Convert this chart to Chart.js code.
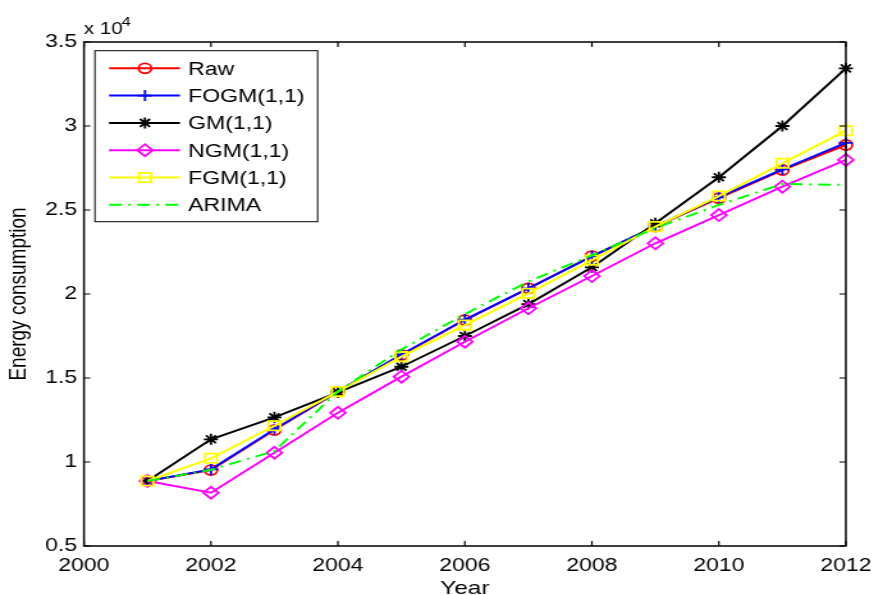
<!DOCTYPE html>
<html>
<head>
<meta charset="utf-8">
<script src="https://cdn.jsdelivr.net/npm/chart.js@4.4.0/dist/chart.umd.min.js"></script>
<style>
  html, body { margin: 0; padding: 0; background: #fff; overflow: hidden; }
</style>
</head>
<body>
<!-- drawn narrower and stretched sideways, like the reference picture -->
<canvas id="c" width="690" height="595" style="width:883px;height:595px"></canvas>
<script>
// Data (energy consumption)
const years = [2001, 2002, 2003, 2004, 2005, 2006, 2007, 2008, 2009, 2010, 2011, 2012];
const raw   = [8870, 9520, 11900, 14190, 16370, 18450, 20340, 22260, 24010, 25700, 27380, 28870];
const fogm  = [8870, 9560, 11950, 14200, 16400, 18480, 20340, 22240, 24020, 25760, 27420, 28990];
const gm    = [8870, 11350, 12660, 14150, 15670, 17500, 19400, 21590, 24210, 26950, 30000, 33430];
const ngm   = [8870, 8170, 10550, 12930, 15080, 17160, 19150, 21070, 23020, 24700, 26390, 27980];
const fgm   = [8870, 10220, 12160, 14190, 16270, 18150, 20040, 22020, 24010, 25830, 27780, 29720];
const arima = [8870, 9540, 10650, 14200, 16700, 18800, 20750, 22300, 23930, 25300, 26550, 26490];

const xTickLabels = ['2000', '2002', '2004', '2006', '2008', '2010', '2012'];
const yTickLabels = ['0.5', '1', '1.5', '2', '2.5', '3', '3.5'];

Chart.defaults.font.family = '"Liberation Sans", Arial, Helvetica, sans-serif';
Chart.defaults.color = '#000';

function pts(arr) {
    return years.map(function (t, i) { return { x: t, y: arr[i] }; });
}

function series(label, arr, color, style, radius, order) {
    return {
        label: label,
        data: pts(arr),
        borderColor: color,
        backgroundColor: color,
        borderWidth: 2,
        pointStyle: style,
        pointRadius: radius,
        pointBorderWidth: 1.8,
        pointBorderColor: color,
        pointBackgroundColor: 'rgba(0,0,0,0)',
        tension: 0,
        clip: false,
        order: order
    };
}

const datasets = [
    series('Raw', raw, '#ff0000', 'circle', 5, 6),
    series('FOGM(1,1)', fogm, '#0000ff', 'cross', 5.5, 5),
    series('GM(1,1)', gm, '#000000', 'star', 5.5, 4),
    series('NGM(1,1)', ngm, '#ff00ff', 'rectRot', 6, 3),
    series('FGM(1,1)', fgm, '#ffff00', 'rect', 6.6, 2),
    Object.assign(series('ARIMA', arima, '#00ff00', false, 0, 1), { borderDash: [10, 5, 2, 5] })
];

// box round the axes, inward ticks on all four sides, the x 10^4 factor
const frame = {
    id: 'frame',
    afterDatasetsDraw(chart) {
        const ctx = chart.ctx;
        const a = chart.chartArea;
        const xs = chart.scales.x, ys = chart.scales.y;
        ctx.save();
        ctx.strokeStyle = '#000';
        ctx.lineWidth = 1.5;
        ctx.strokeRect(a.left, a.top, a.right - a.left, a.bottom - a.top);
        ctx.lineWidth = 1.2;
        ctx.beginPath();
        xs.ticks.forEach(function (t) {
            const px = xs.getPixelForValue(t.value);
            ctx.moveTo(px, a.bottom); ctx.lineTo(px, a.bottom - 5);
            ctx.moveTo(px, a.top); ctx.lineTo(px, a.top + 5);
        });
        ys.ticks.forEach(function (t) {
            const py = ys.getPixelForValue(t.value);
            ctx.moveTo(a.left, py); ctx.lineTo(a.left + 5, py);
            ctx.moveTo(a.right, py); ctx.lineTo(a.right - 5, py);
        });
        ctx.stroke();

        ctx.fillStyle = '#000';
        ctx.textAlign = 'left';
        ctx.textBaseline = 'alphabetic';
        ctx.font = '16px "Liberation Sans", Arial, sans-serif';
        ctx.fillText('x 10', a.left, 34);
        ctx.font = '13px "Liberation Sans", Arial, sans-serif';
        ctx.fillText('4', a.left + 29.5, 26);
        ctx.restore();
    }
};

// legend box inside the plot, top left
const boxLegend = {
    id: 'boxLegend',
    afterDraw(chart) {
        const ctx = chart.ctx;
        const lx = 74.2, ly = 50.7, lw = 174, lh = 171;
        ctx.save();
        ctx.fillStyle = '#fff';
        ctx.fillRect(lx, ly, lw, lh);
        ctx.strokeStyle = '#000';
        ctx.lineWidth = 1;
        ctx.strokeRect(lx, ly, lw, lh);
        chart.data.datasets.forEach(function (ds, i) {
            const y = 68.3 + i * 27.3;
            ctx.strokeStyle = ds.borderColor;
            ctx.lineWidth = ds.borderWidth;
            ctx.setLineDash(ds.borderDash || []);
            ctx.beginPath();
            ctx.moveTo(85.2, y);
            ctx.lineTo(140.6, y);
            ctx.stroke();
            ctx.setLineDash([]);
            if (ds.pointRadius > 0) {
                ctx.fillStyle = 'rgba(0,0,0,0)';
                ctx.lineWidth = ds.pointBorderWidth;
                Chart.helpers.drawPoint(ctx, {
                    pointStyle: ds.pointStyle,
                    radius: ds.pointRadius,
                    borderWidth: ds.pointBorderWidth,
                    rotation: 0
                }, 113.3, y);
            }
            ctx.fillStyle = '#000';
            ctx.font = '18px "Liberation Sans", Arial, sans-serif';
            ctx.textAlign = 'left';
            ctx.textBaseline = 'alphabetic';
            ctx.fillText(ds.label, 146.9, y + 6.4);
        });
        ctx.restore();
    }
};

new Chart(document.getElementById('c'), {
    type: 'line',
    data: { datasets: datasets },
    plugins: [frame, boxLegend],
    options: {
        responsive: false,
        animation: false,
        devicePixelRatio: 1,
        layout: { padding: { left: 0, right: 20.5, top: 42, bottom: 0 } },
        plugins: {
            legend: { display: false },
            tooltip: { enabled: false }
        },
        scales: {
            x: {
                type: 'linear',
                min: 2000,
                max: 2012,
                grid: { display: false, drawTicks: false },
                border: { display: false },
                ticks: {
                    stepSize: 2,
                    padding: 9,
                    maxRotation: 0,
                    font: { size: 18 },
                    callback: function (value, index) { return xTickLabels[index]; }
                },
                title: {
                    display: true,
                    text: 'Year',
                    font: { size: 19, lineHeight: 0.7 },
                    padding: 0
                },
                afterFit: function (scale) { scale.height = 49; }
            },
            y: {
                type: 'linear',
                min: 5000,
                max: 35000,
                grid: { display: false, drawTicks: false },
                border: { display: false },
                ticks: {
                    stepSize: 5000,
                    padding: 5.4,
                    font: { size: 18 },
                    callback: function (value, index) { return yTickLabels[index]; }
                },
                title: {
                    display: true,
                    text: 'Energy consumption',
                    font: { size: 19 },
                    padding: { top: 3, bottom: 0 }
                },
                afterFit: function (scale) { scale.width = 65.6; }
            }
        }
    }
});
</script>
</body>
</html>
